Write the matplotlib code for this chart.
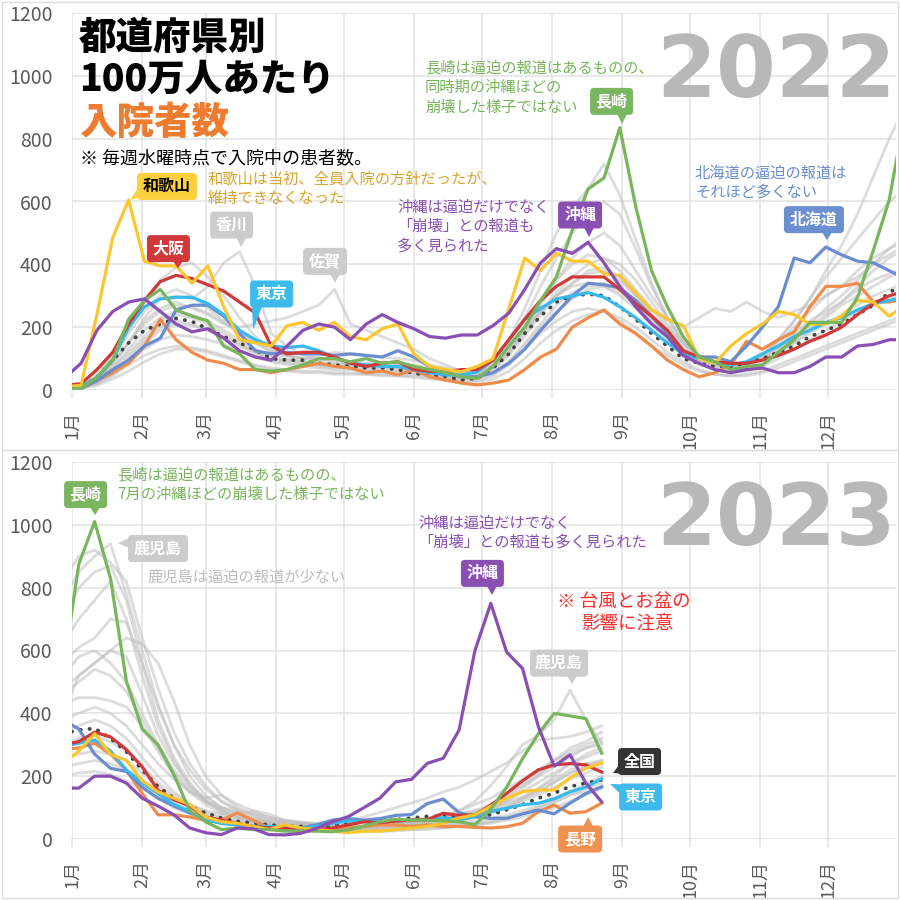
import datetime as dt

import matplotlib
matplotlib.use('Agg')
import matplotlib.pyplot as plt
import matplotlib.transforms as mtransforms
from matplotlib.patches import FancyBboxPatch, Polygon, Rectangle
import pandas as pd

plt.rcParams['font.family'] = ['Noto Sans CJK JP', 'DejaVu Sans']

# 毎週水曜時点
weeks_2022 = pd.date_range('2021-12-29', periods=54, freq='7D')
weeks_2023 = pd.date_range('2022-12-28', periods=35, freq='7D')

month_labels = [f'{m}月' for m in range(1, 13)]
y_ticks = [0, 200, 400, 600, 800, 1000, 1200]

# ---- 2022 ----
zenkoku_2022 = [8, 10, 40, 95, 150, 190, 210, 228, 218, 195,
                170, 150, 128, 100, 95, 95, 85, 80, 75, 70,
                70, 65, 53, 48, 43, 32, 37, 70, 115, 180,
                235, 280, 300, 305, 300, 265, 225, 180, 140, 100,
                85, 75, 75, 85, 100, 120, 140, 170, 190, 210,
                240, 270, 310, 340]
wakayama_2022 = [10, 15, 240, 485, 605, 410, 395, 395, 340, 395,
                 265, 160, 150, 140, 205, 215, 190, 215, 170, 160,
                 195, 210, 115, 75, 65, 58, 75, 100, 260, 420,
                 380, 435, 410, 410, 370, 365, 310, 255, 225, 205,
                 100, 85, 140, 180, 210, 250, 240, 210, 210, 235,
                 285, 280, 235, 270]
nagasaki_2022 = [5, 5, 40, 95, 225, 285, 320, 255, 235, 220,
                 140, 115, 65, 60, 65, 80, 100, 100, 90, 100,
                 85, 90, 75, 65, 55, 42, 37, 75, 140, 200,
                 285, 360, 510, 640, 675, 835, 585, 380, 265, 170,
                 105, 90, 65, 75, 80, 120, 160, 215, 215, 215,
                 295, 445, 605, 880]
osaka_2022 = [15, 20, 65, 120, 210, 285, 345, 365, 355, 335,
              315, 280, 245, 140, 115, 120, 120, 105, 85, 75,
              85, 90, 65, 60, 58, 65, 65, 95, 160, 225,
              285, 330, 360, 360, 360, 320, 275, 235, 190, 125,
              105, 90, 85, 85, 95, 110, 130, 155, 175, 200,
              240, 275, 300, 315]
tokyo_2022 = [8, 10, 40, 95, 200, 265, 290, 295, 295, 275,
              240, 190, 160, 140, 135, 140, 125, 105, 85, 80,
              75, 75, 65, 55, 48, 48, 58, 95, 160, 225,
              260, 290, 300, 310, 295, 265, 230, 190, 150, 115,
              100, 85, 80, 90, 115, 140, 170, 190, 215, 230,
              255, 275, 285, 295]
okinawa_2022 = [40, 85, 190, 250, 280, 290, 250, 210, 185, 195,
                165, 125, 105, 95, 140, 190, 210, 200, 160, 210,
                240, 215, 195, 170, 165, 175, 175, 205, 245, 320,
                405, 450, 435, 470, 405, 330, 265, 210, 170, 110,
                85, 65, 55, 65, 70, 55, 55, 75, 105, 105,
                140, 145, 160, 160]
hokkaido_2022 = [3, 5, 30, 65, 95, 140, 165, 255, 270, 270,
                 235, 180, 125, 115, 120, 115, 115, 110, 115, 110,
                 105, 125, 105, 75, 55, 42, 42, 55, 85, 130,
                 190, 245, 300, 340, 335, 325, 285, 235, 180, 115,
                 105, 105, 90, 140, 200, 265, 420, 405, 455, 430,
                 410, 405, 380, 355]
nagano_2022 = [3, 5, 30, 55, 85, 140, 225, 160, 120, 95,
               85, 65, 65, 55, 65, 75, 85, 75, 70, 55,
               60, 48, 65, 42, 32, 22, 16, 22, 32, 65,
               105, 130, 200, 230, 255, 210, 180, 140, 95, 65,
               42, 55, 80, 155, 130, 160, 185, 265, 330, 330,
               340, 280, 280, 290]

# その他の都道府県 (灰色)
grey_2022 = [
    # 香川
    [5, 10, 40, 90, 150, 230, 290, 300, 290, 330,
     405, 440, 330, 180, 140, 110, 100, 95, 90, 80,
     90, 85, 80, 70, 60, 55, 60, 80, 130, 190,
     250, 300, 330, 340, 330, 300, 260, 210, 170, 130,
     95, 80, 70, 75, 100, 140, 180, 220, 250, 280,
     320, 350, 370, 390],
    # 佐賀
    [5, 10, 35, 80, 150, 220, 260, 280, 260, 240,
     210, 200, 210, 220, 230, 250, 270, 320, 210, 190,
     170, 150, 130, 100, 80, 60, 55, 70, 120, 200,
     280, 350, 400, 430, 420, 380, 320, 260, 200, 150,
     110, 90, 80, 85, 110, 150, 200, 250, 300, 330,
     380, 420, 450, 470],
    [5, 10, 40, 100, 180, 250, 300, 320, 300, 260,
     220, 180, 150, 120, 110, 100, 95, 100, 90, 85,
     80, 80, 75, 65, 55, 50, 60, 90, 160, 260,
     380, 500, 580, 640, 720, 620, 480, 340, 230, 160,
     110, 90, 80, 85, 100, 130, 170, 200, 240, 280,
     330, 380, 420, 450],
    [5, 10, 30, 70, 120, 170, 220, 240, 230, 210,
     180, 150, 120, 100, 95, 90, 85, 80, 80, 75,
     70, 70, 65, 55, 50, 45, 50, 80, 140, 230,
     330, 420, 500, 560, 600, 560, 450, 330, 230, 150,
     100, 80, 75, 80, 110, 160, 220, 290, 380, 460,
     560, 680, 800, 900],
    [5, 15, 50, 110, 190, 280, 350, 390, 405, 360,
     300, 230, 170, 130, 110, 100, 110, 120, 115, 110,
     105, 100, 95, 80, 70, 60, 60, 80, 130, 190,
     250, 300, 340, 380, 390, 360, 300, 240, 190, 140,
     100, 85, 75, 80, 95, 120, 150, 180, 210, 240,
     270, 300, 320, 340],
    [5, 10, 30, 70, 130, 190, 230, 250, 240, 220,
     190, 160, 130, 110, 100, 90, 85, 85, 80, 75,
     75, 70, 65, 55, 45, 40, 45, 70, 120, 190,
     270, 350, 420, 470, 500, 460, 380, 300, 230, 200,
     230, 260, 250, 280, 250, 230, 250, 270, 300, 330,
     360, 400, 430, 460],
    [3, 5, 20, 45, 80, 110, 130, 140, 135, 125,
     110, 95, 80, 70, 65, 60, 60, 55, 55, 50,
     50, 45, 45, 40, 35, 30, 30, 45, 80, 130,
     180, 220, 250, 260, 250, 220, 180, 140, 110, 80,
     60, 50, 45, 50, 60, 80, 100, 120, 140, 160,
     180, 200, 220, 240],
    [3, 8, 25, 60, 110, 160, 200, 220, 210, 190,
     165, 140, 115, 95, 85, 80, 75, 70, 70, 65,
     60, 60, 55, 45, 40, 35, 40, 60, 110, 170,
     240, 300, 340, 370, 380, 350, 300, 240, 180, 130,
     90, 70, 60, 65, 80, 110, 150, 190, 230, 270,
     300, 330, 360, 380],
    [3, 5, 15, 35, 60, 90, 115, 130, 130, 120,
     105, 90, 75, 65, 60, 55, 55, 50, 50, 50,
     45, 45, 40, 35, 30, 25, 25, 35, 60, 100,
     150, 190, 220, 240, 250, 230, 200, 160, 120, 90,
     65, 50, 45, 45, 55, 70, 90, 110, 130, 150,
     170, 190, 210, 230],
    [5, 10, 35, 85, 150, 210, 250, 270, 265, 245,
     215, 180, 150, 125, 110, 100, 95, 90, 85, 80,
     75, 75, 70, 60, 50, 45, 50, 70, 120, 180,
     250, 310, 360, 400, 420, 400, 350, 280, 210, 150,
     110, 90, 80, 85, 100, 130, 170, 210, 260, 300,
     350, 400, 450, 490],
    [3, 8, 25, 55, 100, 150, 190, 210, 205, 190,
     170, 145, 120, 100, 90, 85, 80, 75, 75, 70,
     65, 65, 60, 50, 45, 40, 40, 55, 90, 140,
     200, 250, 290, 320, 330, 310, 270, 220, 170, 120,
     90, 75, 70, 80, 110, 160, 220, 290, 360, 420,
     480, 540, 600, 640],
    [3, 6, 20, 50, 90, 130, 160, 175, 170, 160,
     145, 125, 105, 90, 80, 75, 70, 65, 65, 60,
     60, 55, 50, 45, 40, 35, 35, 50, 90, 150,
     210, 270, 310, 330, 340, 320, 280, 220, 160, 110,
     80, 65, 55, 60, 75, 100, 130, 160, 190, 220,
     250, 270, 290, 300],
]

# ---- 2023 ----
zenkoku_2023 = [335, 347, 352, 320, 278, 220, 167, 130, 104, 83,
                67, 56, 51, 45, 40, 40, 40, 45, 51, 56,
                56, 61, 67, 72, 72, 72, 72, 77, 93, 109,
                130, 146, 167, 178, 188]
wakayama_2023 = [240, 280, 335, 270, 250, 185, 150, 130, 110, 70,
                 55, 50, 40, 30, 45, 35, 30, 25, 20, 25,
                 25, 30, 35, 40, 50, 67, 77, 104, 130, 151,
                 156, 156, 195, 225, 242]
nagasaki_2023 = [530, 875, 1010, 830, 503, 350, 300, 205, 90, 55,
                 30, 35, 30, 30, 25, 25, 25, 23, 29, 41,
                 55, 63, 60, 60, 58, 55, 45, 95, 165, 255,
                 335, 400, 392, 383, 273]
osaka_2023 = [300, 310, 340, 325, 285, 230, 155, 125, 105, 70,
              60, 50, 40, 35, 35, 35, 30, 35, 45, 55,
              52, 57, 60, 62, 82, 75, 77, 108, 145, 185,
              220, 236, 240, 236, 213]
tokyo_2023 = [295, 305, 315, 280, 220, 178, 145, 110, 88, 60,
              50, 45, 40, 40, 35, 35, 40, 50, 57, 55,
              55, 57, 60, 61, 68, 61, 72, 88, 98, 109,
              114, 128, 150, 165, 192]
okinawa_2023 = [162, 162, 200, 200, 178, 130, 105, 77, 35, 20,
                14, 35, 33, 14, 13, 18, 34, 55, 71, 100,
                130, 182, 190, 241, 257, 347, 600, 750, 595, 543,
                358, 232, 268, 178, 118]
hokkaido_2023 = [380, 350, 270, 225, 215, 165, 130, 105, 83, 67,
                 50, 45, 35, 30, 35, 35, 45, 60, 65, 60,
                 65, 75, 78, 113, 127, 84, 71, 66, 66, 80,
                 92, 80, 114, 145, 166]
nagano_2023 = [285, 290, 305, 270, 220, 145, 77, 77, 70, 60,
               60, 83, 60, 35, 30, 30, 30, 30, 35, 40,
               45, 45, 40, 45, 40, 40, 37, 35, 39, 50,
               87, 108, 82, 87, 114]

grey_2023 = [
    # 鹿児島
    [760, 850, 900, 940, 780, 600, 430, 300, 200, 140,
     100, 80, 60, 50, 45, 40, 35, 35, 30, 35,
     40, 45, 50, 60, 70, 90, 120, 170, 230, 300,
     330, 380, 474, 380, 305],
    [820, 900, 920, 880, 820, 640, 480, 340, 240, 170,
     120, 90, 70, 55, 50, 45, 40, 35, 35, 35,
     40, 40, 45, 50, 55, 60, 70, 90, 120, 160,
     200, 250, 290, 310, 340],
    [700, 800, 850, 870, 760, 560, 380, 260, 180, 120,
     90, 70, 55, 45, 40, 35, 35, 30, 30, 30,
     35, 40, 45, 50, 55, 65, 80, 100, 130, 170,
     210, 250, 280, 300, 320],
    [560, 610, 640, 700, 690, 560, 420, 300, 220, 160,
     120, 95, 75, 60, 55, 50, 45, 40, 40, 40,
     45, 50, 55, 65, 75, 90, 110, 130, 160, 190,
     220, 250, 270, 290, 300],
    [520, 580, 600, 560, 500, 400, 300, 220, 160, 120,
     90, 70, 60, 55, 50, 50, 50, 55, 60, 70,
     85, 100, 115, 130, 150, 165, 188, 215, 242, 280,
     315, 320, 326, 340, 360],
    [460, 500, 540, 520, 470, 380, 290, 210, 150, 110,
     80, 65, 55, 50, 45, 40, 40, 35, 35, 40,
     40, 45, 50, 55, 60, 70, 85, 100, 120, 150,
     180, 210, 240, 260, 280],
    [430, 450, 450, 440, 420, 360, 280, 200, 150, 120,
     100, 90, 80, 70, 60, 55, 50, 45, 45, 45,
     50, 55, 60, 65, 70, 80, 90, 100, 115, 135,
     160, 190, 220, 240, 250],
    [380, 400, 420, 400, 360, 300, 240, 190, 150, 130,
     140, 110, 90, 70, 55, 45, 40, 35, 30, 30,
     35, 40, 40, 45, 50, 55, 65, 80, 100, 125,
     150, 180, 210, 230, 250],
    [340, 360, 380, 360, 320, 260, 200, 150, 110, 85,
     70, 60, 55, 50, 45, 40, 40, 35, 35, 35,
     35, 40, 40, 45, 45, 50, 55, 65, 75, 90,
     105, 125, 150, 175, 200],
    [300, 320, 330, 310, 280, 230, 180, 140, 110, 90,
     80, 75, 90, 80, 60, 50, 45, 40, 40, 40,
     45, 50, 50, 55, 60, 65, 75, 85, 100, 120,
     140, 165, 190, 210, 230],
    [260, 270, 280, 270, 250, 210, 170, 130, 100, 80,
     65, 55, 50, 45, 40, 35, 30, 30, 30, 30,
     30, 35, 35, 40, 40, 45, 50, 55, 65, 80,
     95, 115, 140, 160, 180],
    [230, 240, 250, 240, 220, 190, 150, 115, 90, 70,
     60, 50, 45, 40, 40, 35, 30, 30, 25, 25,
     25, 30, 30, 35, 35, 40, 45, 50, 60, 70,
     85, 100, 120, 140, 160],
    [200, 210, 215, 205, 185, 160, 130, 100, 80, 65,
     55, 45, 40, 35, 30, 30, 25, 25, 25, 25,
     25, 25, 30, 30, 35, 40, 45, 55, 65, 80,
     100, 120, 140, 150, 170],
    [620, 700, 760, 820, 700, 520, 360, 250, 170, 120,
     90, 70, 60, 50, 45, 40, 40, 35, 35, 35,
     40, 45, 50, 55, 65, 75, 90, 110, 140, 170,
     200, 230, 260, 290, 310],
    [400, 520, 560, 600, 580, 460, 330, 240, 170, 130,
     100, 80, 65, 55, 50, 45, 40, 40, 35, 35,
     40, 40, 45, 50, 55, 60, 70, 85, 100, 130,
     160, 200, 240, 270, 290],
    [480, 520, 560, 600, 640, 620, 560, 440, 300, 200,
     140, 100, 80, 65, 55, 50, 45, 40, 40, 40,
     40, 45, 50, 55, 60, 65, 75, 90, 110, 130,
     150, 180, 210, 230, 240],
]

COLORS = {
    '長野': '#ef8c4c', '北海道': '#6a8dcf', '東京': '#38b9ec', '大阪': '#d0383a',
    '和歌山': '#fcc630', '長崎': '#79b55c', '沖縄': '#8a4fb3',
}
GRID = '#e2e2e2'
TICK = '#5a5a5a'

series_2022 = {'長野': nagano_2022, '北海道': hokkaido_2022, '東京': tokyo_2022,
               '大阪': osaka_2022, '和歌山': wakayama_2022, '長崎': nagasaki_2022,
               '沖縄': okinawa_2022}
series_2023 = {'長野': nagano_2023, '北海道': hokkaido_2023, '東京': tokyo_2023,
               '大阪': osaka_2023, '和歌山': wakayama_2023, '長崎': nagasaki_2023,
               '沖縄': okinawa_2023}

fig = plt.figure(figsize=(9, 9), dpi=100)
PX = 900.0


def rect(left, top, right, bottom):
    return [left / PX, 1 - bottom / PX, (right - left) / PX, (bottom - top) / PX]


def ftext(x, y, s, **kw):
    kw.setdefault('va', 'center')
    fig.text(x / PX, 1 - y / PX, s, **kw)


def day_of_year(dates, year):
    return (dates - pd.Timestamp(f'{year}-01-01')).days.values


month_days = [(dt.date(2022, m, 1) - dt.date(2022, 1, 1)).days for m in range(1, 13)]


def style(ax):
    ax.set_xlim(0, 364)
    ax.set_ylim(0, 1200)
    ax.set_xticks(month_days)
    ax.set_xticklabels(month_labels, rotation=90, fontsize=13, color=TICK)
    ax.set_yticks(y_ticks)
    ax.set_yticklabels([str(v) for v in y_ticks], fontsize=14, color=TICK)
    ax.grid(True, color=GRID, lw=1.1)
    ax.set_axisbelow(True)
    for s in ax.spines.values():
        s.set_visible(False)
    ax.tick_params(axis='x', length=6, width=1.1, color=GRID, pad=9)
    ax.tick_params(axis='y', length=0, pad=14)
    ax.patch.set_alpha(0)


def draw_year(ax, days, grey, zenkoku, series):
    for g in grey:
        ax.plot(days[:len(g)], g, color='#c0c0c0', lw=2.0, alpha=0.55, zorder=2)
    ax.plot(days[:len(zenkoku)], zenkoku, color='#444444', lw=2.7, ls=(0, (0.1, 2.3)),
            dash_capstyle='round', zorder=3)
    for name, vals in series.items():
        ax.plot(days[:len(vals)], vals, color=COLORS[name], lw=2.3, zorder=4,
                solid_joinstyle='round')


def callout(ax, text, tip, dx, dy, w, side, fc, tc='white'):
    # dx, dy: 吹き出し中心の位置 (ピクセル, 上向き正)
    trans = fig.dpi_scale_trans + mtransforms.ScaledTranslation(tip[0], tip[1], ax.transData)
    h = 27
    L, R, B, T = dx - w / 2, dx + w / 2, dy - h / 2, dy + h / 2
    if side == 'bottom':
        bx = min(max(0, L + 7), R - 7)
        tri = [(0, 0), (bx - 5, B + 1), (bx + 5, B + 1)]
    elif side == 'top':
        bx = min(max(0, L + 7), R - 7)
        tri = [(0, 0), (bx - 5, T - 1), (bx + 5, T - 1)]
    elif side == 'left':
        by = min(max(0, B + 7), T - 7)
        tri = [(0, 0), (L + 1, by - 5), (L + 1, by + 5)]
    elif side == 'bl':
        tri = [(0, 0), (L + 1, B + 10), (L + 10, B + 1)]
    else:
        tri = [(0, 0), (L + 1, T - 10), (L + 10, T - 1)]
    s = 0.01
    ax.add_patch(Polygon([(x * s, y * s) for x, y in tri], closed=True, fc=fc, ec='none',
                         transform=trans, clip_on=False, zorder=8))
    ax.add_patch(FancyBboxPatch((L * s, B * s), w * s, h * s,
                                boxstyle='round,pad=0,rounding_size=0.04',
                                fc=fc, ec='none', transform=trans, clip_on=False, zorder=8))
    ax.text(dx * s, dy * s, text, transform=trans, ha='center', va='center', color=tc,
            fontsize=11.5, fontweight='bold', zorder=9)


ax1 = fig.add_axes(rect(72, 13, 896, 390))
ax2 = fig.add_axes(rect(72, 462, 896, 839))
for ax in (ax1, ax2):
    style(ax)

draw_year(ax1, day_of_year(weeks_2022, 2022), grey_2022, zenkoku_2022, series_2022)
draw_year(ax2, day_of_year(weeks_2023, 2023), grey_2023, zenkoku_2023, series_2023)

# 枠
for top, bottom in ((2, 450), (450, 898)):
    fig.patches.append(Rectangle((2 / PX, 1 - bottom / PX), 896 / PX, (bottom - top) / PX,
                                 transform=fig.transFigure, fill=False, ec='#dddddd', lw=1))

# ---- 2022 テキスト ----
ftext(79, 38, '都道府県別', fontsize=27, fontweight='black', color='black')
ftext(79, 80, '100万人あたり', fontsize=27, fontweight='black', color='black')
ftext(79, 123, '入院者数', fontsize=27, fontweight='black', color='#ee7c30')
ftext(80, 158, '※ 毎週水曜時点で入院中の患者数。', fontsize=13, color='black')
ftext(896, 97, '2022', ha='right', va='baseline', fontsize=62, fontweight='bold',
      color='#b8b8b8', family='DejaVu Sans')


def lines(x, y0, step, rows, **kw):
    for i, r in enumerate(rows):
        ftext(x, y0 + i * step, r, **kw)


lines(208, 179, 19.5, ['和歌山は当初、全員入院の方針だったが、', '維持できなくなった'],
      fontsize=11, color='#d6a62c')
lines(397, 207, 19.5, ['沖縄は逼迫だけでなく', '「崩壊」との報道も', '多く見られた'],
      fontsize=11, color='#8a4fb3')
lines(425, 68, 19.5, ['長崎は逼迫の報道はあるものの、', '同時期の沖縄ほどの', '崩壊した様子ではない'],
      fontsize=11, color='#79b55c')
lines(695, 173, 19.5, ['北海道の逼迫の報道は', 'それほど多くない'],
      fontsize=11, color='#6a8dcf')

callout(ax1, '和歌山', (25.6, 605), 37, 13.5, 60, 'left', '#fdd03e', tc='black')
callout(ax1, '大阪', (46.8, 388), -9.5, 19.5, 43, 'bottom', '#d0383a')
callout(ax1, '香川', (74.7, 455), -9.5, 22, 43, 'bottom', '#cccccc')
callout(ax1, '佐賀', (116.2, 341), -10, 21.5, 44, 'bottom', '#cccccc')
callout(ax1, '東京', (80, 191), 18.5, 36, 43, 'bottom', '#3dbbed')
callout(ax1, '長崎', (243, 847), -10.5, 22.5, 43, 'bottom', '#7ab660')
callout(ax1, '沖縄', (228.4, 487), -9, 22, 44, 'bottom', '#8a4fb3')
callout(ax1, '北海道', (333.5, 477), -13, 20.5, 60, 'bottom', '#6b8fd1')

# ---- 2023 テキスト ----
ftext(896, 545, '2023', ha='right', va='baseline', fontsize=62, fontweight='bold',
      color='#b8b8b8', family='DejaVu Sans')
lines(117, 475, 19.5, ['長崎は逼迫の報道はあるものの、', '7月の沖縄ほどの崩壊した様子ではない'],
      fontsize=11, color='#79b55c')
ftext(148, 577, '鹿児島は逼迫の報道が少ない', fontsize=11, color='#bdbdbd')
lines(418, 523, 19.5, ['沖縄は逼迫だけでなく', '「崩壊」との報道も多く見られた'],
      fontsize=11, color='#8a4fb3')
ftext(557, 602, '※ 台風とお盆の', fontsize=13.3, color='#ff2a2a')
ftext(581, 624, '影響に注意', fontsize=13.3, color='#ff2a2a')

callout(ax2, '長崎', (10.2, 1031), -9.5, 20.5, 43, 'bottom', '#7ab660')
callout(ax2, '鹿児島', (20.3, 942), 40, -5.5, 60, 'left', '#cccccc')
callout(ax2, '沖縄', (185.5, 777), -9.5, 21.5, 43, 'bottom', '#8a4fb3')
callout(ax2, '鹿児島', (220.9, 493), -13, 21, 58, 'bottom', '#cccccc')
callout(ax2, '全国', (239, 210), 26.5, 11.5, 43, 'bl', '#333333')
callout(ax2, '東京', (237.7, 175), 30.5, -13, 43, 'tl', '#3dbbed')
callout(ax2, '長野', (228, 70), -8, -22, 44, 'top', '#f0924f')

fig.savefig('out.png', dpi=100, facecolor='white')
